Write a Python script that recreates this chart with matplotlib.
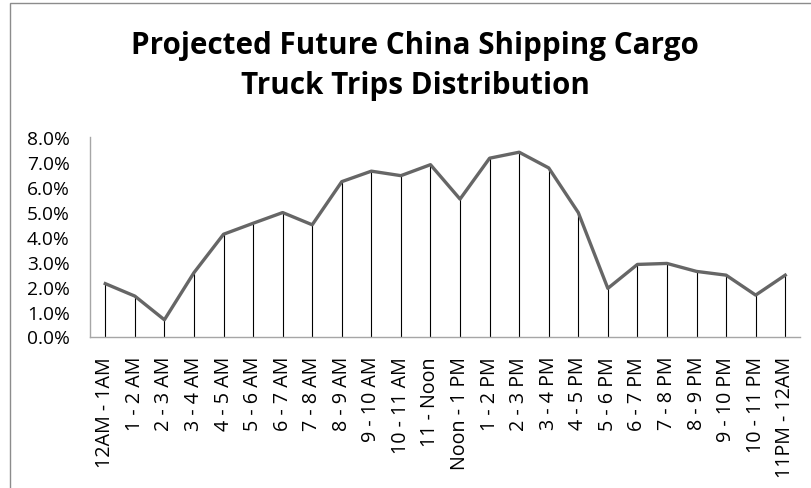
import matplotlib
matplotlib.use("Agg")
import matplotlib.pyplot as plt
from matplotlib.patches import Rectangle
from matplotlib.ticker import FuncFormatter

categories = ["12AM - 1AM", "1 - 2 AM", "2 - 3 AM", "3 - 4 AM", "4 - 5 AM", "5 - 6 AM",
              "6 - 7 AM", "7 - 8 AM", "8 - 9 AM", "9 - 10 AM", "10 - 11 AM", "11 - Noon",
              "Noon - 1 PM", "1 - 2 PM", "2 - 3 PM", "3 - 4 PM", "4 - 5 PM", "5 - 6 PM",
              "6 - 7 PM", "7 - 8 PM", "8 - 9 PM", "9 - 10 PM", "10 - 11 PM", "11PM - 12AM"]
values = [2.12, 1.62, 0.67, 2.56, 4.10, 4.54, 4.97, 4.48, 6.21, 6.63, 6.45, 6.89,
          5.51, 7.15, 7.39, 6.76, 4.97, 1.93, 2.89, 2.93, 2.61, 2.46, 1.66, 2.46]
y_ticks = [0, 1, 2, 3, 4, 5, 6, 7, 8]
title = "Projected Future China Shipping Cargo\nTruck Trips Distribution"

W, H = 812, 489
fig = plt.figure(figsize=(W / 100, H / 100), dpi=100)
fig.patch.set_facecolor("white")

# outer chart border
fig.patches.append(Rectangle((10 / W, -0.05), 1.2, (H - 4) / H + 0.05,
                             transform=fig.transFigure, fill=False,
                             edgecolor="#8c8c8c", linewidth=1.0))

ax = fig.add_axes([90.5 / W, (H - 337.5) / H, (800 - 90.5) / W, (337.5 - 138) / H])
x = list(range(len(categories)))
ax.vlines(x, 0, values, colors="black", linewidth=0.8, zorder=2)
ax.plot(x, values, color="#666666", linewidth=2.4, zorder=3, solid_joinstyle="round")

ax.set_xlim(-0.5, len(categories) - 0.5)
ax.set_ylim(0, 8)
ax.set_yticks(y_ticks)
ax.yaxis.set_major_formatter(FuncFormatter(lambda v, p: f"{v:.1f}%"))
ax.set_xticks(x)
ax.set_xticklabels(categories, rotation=90, fontfamily="Open Sans", fontsize=14.2)
for lab in ax.get_yticklabels():
    lab.set_fontfamily("Open Sans")
    lab.set_fontsize(13.8)
ax.tick_params(axis="x", length=0, pad=14, colors="black")
ax.tick_params(axis="y", length=0, pad=15, colors="black")

for s in ["top", "right"]:
    ax.spines[s].set_visible(False)
for s in ["left", "bottom"]:
    ax.spines[s].set_color("#a6a6a6")
    ax.spines[s].set_linewidth(1.0)

fig.text(415 / W, 1 - 66 / H, title, ha="center", va="center", fontfamily="Open Sans",
         fontweight="bold", fontsize=21.3, linespacing=1.42)

fig.savefig("out.png", dpi=100, facecolor="white")
